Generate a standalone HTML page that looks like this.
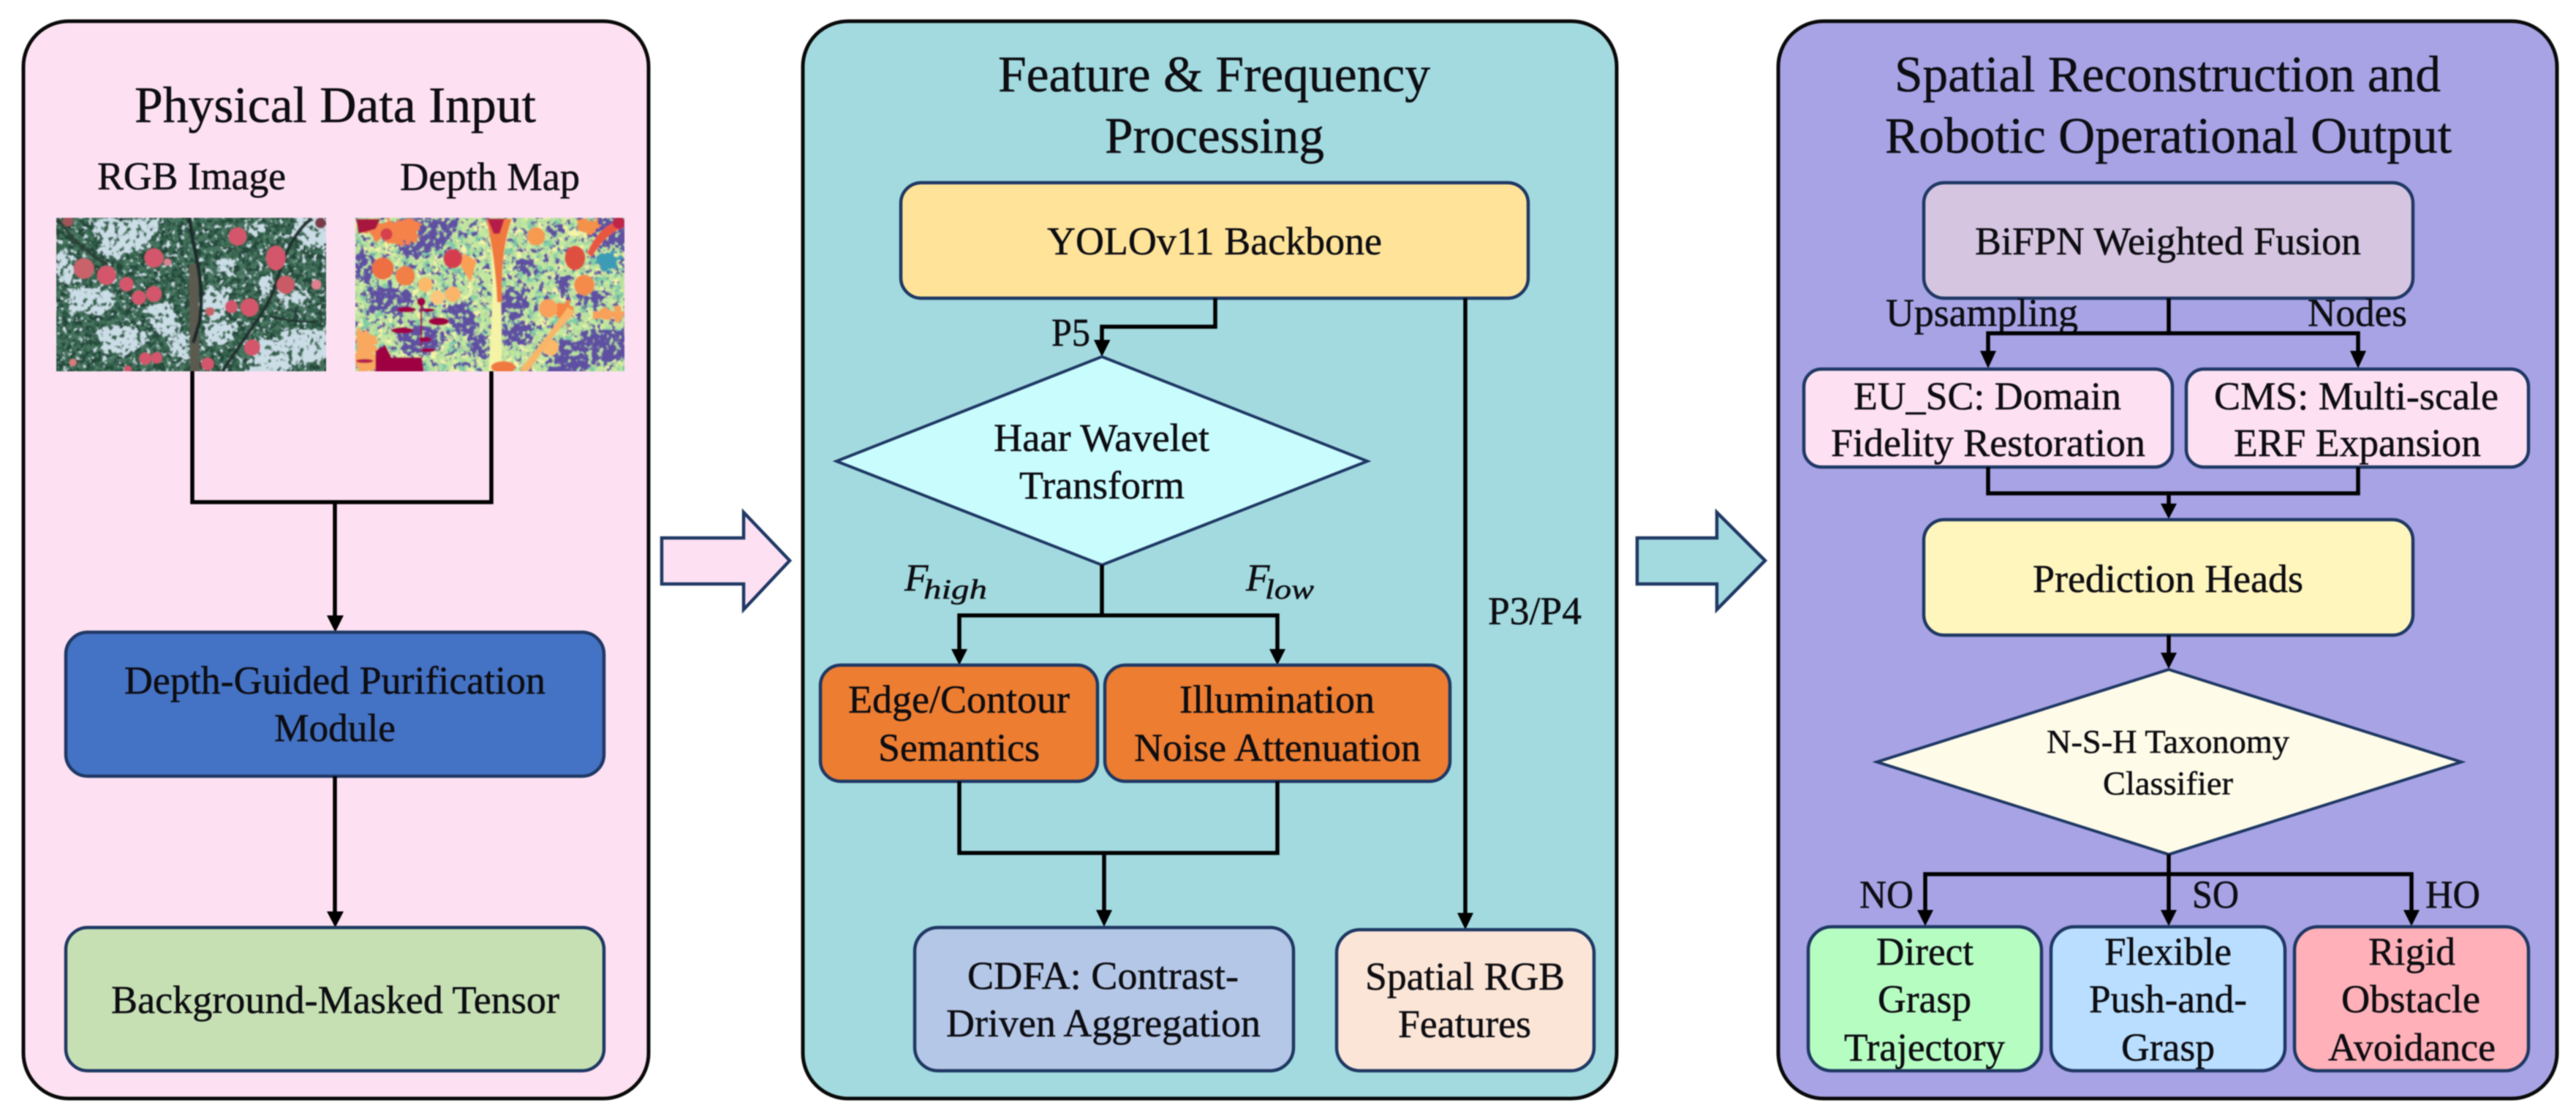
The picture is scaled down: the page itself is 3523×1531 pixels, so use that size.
<!DOCTYPE html>
<html lang="en">
<head>
<meta charset="utf-8">
<title>Pipeline diagram</title>
<style>
html,body{margin:0;padding:0;background:#fff;width:3523px;height:1531px;overflow:hidden}
svg.main{display:block;filter:blur(.8px)}
text{font-family:"Liberation Serif","Times New Roman",serif;font-size:54px;fill:#0d0d12;stroke:#0d0d12;stroke-width:.5px}
.t{font-size:70px}
.panel{stroke:#0a0a0a;stroke-width:5}
.box{stroke:#1F3864;stroke-width:4.5}
.ln{fill:none;stroke:#000;stroke-width:5.5;stroke-linejoin:miter}
.hd{fill:#000}
</style>
</head>
<body>
<svg class="main" xmlns="http://www.w3.org/2000/svg" width="3523" height="1531" viewBox="0 0 3523 1531">
<defs>
<filter id="soft" x="-5%" y="-5%" width="110%" height="110%"><feGaussianBlur stdDeviation="2.500"/></filter>
<filter id="rag" x="-5%" y="-5%" width="110%" height="110%" color-interpolation-filters="sRGB">
<feTurbulence type="fractalNoise" baseFrequency=".035" numOctaves="3" seed="7" result="n"/>
<feDisplacementMap in="SourceGraphic" in2="n" scale="55" xChannelSelector="R" yChannelSelector="G"/>
</filter>
<filter id="lvd" x="0" y="0" width="100%" height="100%" color-interpolation-filters="sRGB">
<feTurbulence type="fractalNoise" baseFrequency=".04" numOctaves="3" seed="4"/>
<feColorMatrix type="matrix" values="0 0 0 0 .13  0 0 0 0 .28  0 0 0 0 .22  1 0 0 0 0"/>
<feComponentTransfer><feFuncA type="linear" slope="10" intercept="-4.6"/></feComponentTransfer>
</filter>
<filter id="lvs" x="0" y="0" width="100%" height="100%" color-interpolation-filters="sRGB">
<feTurbulence type="fractalNoise" baseFrequency=".05" numOctaves="3" seed="31"/>
<feColorMatrix type="matrix" values="0 0 0 0 .80  0 0 0 0 .87  0 0 0 0 .90  1 0 0 0 0"/>
<feComponentTransfer><feFuncA type="linear" slope="10" intercept="-6"/></feComponentTransfer>
</filter>
<filter id="lvo" x="0" y="0" width="100%" height="100%" color-interpolation-filters="sRGB">
<feTurbulence type="fractalNoise" baseFrequency=".045" numOctaves="3" seed="17"/>
<feColorMatrix type="matrix" values="0 0 0 0 .20  0 0 0 0 .38  0 0 0 0 .30  1 0 0 0 0"/>
<feComponentTransfer><feFuncA type="linear" slope="10" intercept="-5.600"/></feComponentTransfer>
</filter>
<filter id="dy" x="0" y="0" width="100%" height="100%" color-interpolation-filters="sRGB">
<feTurbulence type="fractalNoise" baseFrequency=".03" numOctaves="3" seed="23"/>
<feColorMatrix type="matrix" values="0 0 0 0 .97  0 0 0 0 .96  0 0 0 0 .66  1 0 0 0 0"/>
<feComponentTransfer><feFuncA type="linear" slope="9" intercept="-4.8"/></feComponentTransfer>
</filter>
<filter id="dt" x="0" y="0" width="100%" height="100%" color-interpolation-filters="sRGB">
<feTurbulence type="fractalNoise" baseFrequency=".028" numOctaves="3" seed="12"/>
<feColorMatrix type="matrix" values="0 0 0 0 .50  0 0 0 0 .80  0 0 0 0 .65  1 0 0 0 0"/>
<feComponentTransfer><feFuncA type="linear" slope="9" intercept="-4.8"/></feComponentTransfer>
</filter>
<filter id="dp" x="0" y="0" width="100%" height="100%" color-interpolation-filters="sRGB">
<feTurbulence type="fractalNoise" baseFrequency=".045" numOctaves="3" seed="41"/>
<feColorMatrix type="matrix" values="0 0 0 0 .37  0 0 0 0 .31  0 0 0 0 .64  1 0 0 0 0"/>
<feComponentTransfer><feFuncA type="linear" slope="10" intercept="-5.5"/></feComponentTransfer>
</filter>
<filter id="dsp" x="0" y="0" width="100%" height="100%" color-interpolation-filters="sRGB">
<feTurbulence type="fractalNoise" baseFrequency=".045" numOctaves="3" seed="17"/>
<feColorMatrix type="matrix" values="0 0 0 0 .72  0 0 0 0 .88  0 0 0 0 .62  1 0 0 0 0"/>
<feComponentTransfer><feFuncA type="linear" slope="10" intercept="-5.600"/></feComponentTransfer>
</filter>
<g id="skyp">
<path d="M200 60L480 60L450 130L370 190L300 215L235 215L225 160Z"/>
<path d="M100 350L270 340L290 400L240 450L200 440L110 440Z"/>
<path d="M860 530L930 560L1000 510L1170 510L1170 640L1050 640L980 700L830 700Z"/>
<path d="M50 190L110 210L120 260L110 330L50 300Z"/>
<path d="M1020 50L1170 50L1170 170L1060 180L1020 120Z"/>
<path d="M840 80L900 80L890 130L840 130Z"/>
<path d="M700 230L770 220L780 280L710 290Z"/>
<path d="M660 340L760 340L740 450L680 480L650 430Z"/>
<path d="M400 420L500 400L560 480L540 530L470 530Z"/>
<path d="M220 500L380 500L420 560L330 620L240 600L210 540Z"/>
<path d="M950 350L1080 350L1060 400L980 420Z"/>
<path d="M880 290L935 300L920 370L880 360Z"/>
<path d="M650 490L780 480L770 550L680 590Z"/>
<path d="M510 540L590 520L580 640L520 620Z"/>
</g>
</defs>

<!-- panels -->
<rect class="panel" x="32" y="29" width="855" height="1474" rx="62" fill="#FDE0F2"/>
<rect class="panel" x="1098" y="29" width="1113" height="1474" rx="62" fill="#A2DADF"/>
<rect class="panel" x="2432" y="29" width="1065" height="1474" rx="62" fill="#A7A3E5"/>

<!-- block arrows -->
<polygon points="905,736 1017,736 1017,701 1080,767 1017,834 1017,799 905,799" fill="#FDE0F2" stroke="#1F3864" stroke-width="4.5"/>
<polygon points="2239,736 2348,736 2348,701 2414,767 2348,834 2348,799 2239,799" fill="#A2DADF" stroke="#1F3864" stroke-width="4.5"/>

<!-- panel 1 -->
<text class="t" x="184" y="167" textLength="549" lengthAdjust="spacingAndGlyphs">Physical Data Input</text>
<text x="133" y="259" textLength="258" lengthAdjust="spacingAndGlyphs">RGB Image</text>
<text x="547" y="260" textLength="246" lengthAdjust="spacingAndGlyphs">Depth Map</text>

<!-- RGB photo (drawn) -->
<svg x="77" y="298" width="369" height="210" viewBox="52 55 1106 627" preserveAspectRatio="none">
<g filter="url(#soft)">
<rect x="0" y="0" width="1300" height="800" fill="#46755E"/>
<rect x="0" y="0" width="1300" height="800" filter="url(#lvd)"/>
<rect x="0" y="0" width="1300" height="800" filter="url(#lvs)"/>
<g filter="url(#rag)" fill="#CBDDE6" transform="translate(5 0)"><use href="#skyp"/></g>
<rect x="0" y="0" width="1300" height="800" filter="url(#lvo)"/>
<g fill="none" stroke-linecap="round">
<path d="M615 260 L620 680" stroke="#5C5A50" stroke-width="38"/>
<path d="M600 60 C605 170 665 290 640 480 L615 560" stroke="#1E2B2B" stroke-width="15"/>
<path d="M1095 62 C1040 100 990 190 960 300 C930 420 830 530 735 680" stroke="#22302E" stroke-width="14"/>
<path d="M60 62 C110 130 170 200 260 245" stroke="#2E3C36" stroke-width="10"/>
<path d="M930 458 C990 470 1060 485 1120 478" stroke="#22302E" stroke-width="8"/>
</g>
<g fill="#D4566C">
<circle cx="165" cy="262" r="42" fill="#C9626A"/>
<circle cx="258" cy="290" r="39"/>
<circle cx="340" cy="326" r="29"/>
<circle cx="390" cy="381" r="29"/>
<circle cx="452" cy="366" r="32"/>
<circle cx="452" cy="219" r="39"/>
<circle cx="795" cy="131" r="37"/>
<ellipse cx="952" cy="219" rx="40" ry="50"/>
<circle cx="992" cy="329" r="37" fill="#C95A66"/>
<circle cx="844" cy="421" r="37"/>
<circle cx="770" cy="418" r="26"/>
<circle cx="682" cy="438" r="18" fill="#C9626A"/>
<circle cx="855" cy="585" r="33"/>
<circle cx="417" cy="630" r="25"/>
<circle cx="463" cy="627" r="23"/>
<circle cx="672" cy="652" r="26"/>
<circle cx="1118" cy="328" r="20" fill="#E08090"/>
<circle cx="508" cy="236" r="15" fill="#E08090"/>
<circle cx="120" cy="646" r="15" fill="#D87C7C"/>
<circle cx="345" cy="674" r="15"/>
<circle cx="1135" cy="76" r="22" fill="#7A3A4A"/>
<circle cx="100" cy="68" r="22" fill="#A0545A"/>
</g>
</g>
</svg>

<!-- Depth map (drawn) -->
<svg x="486" y="298" width="368" height="210" viewBox="47 55 1106 627" preserveAspectRatio="none">
<g filter="url(#soft)">
<rect x="0" y="0" width="1300" height="800" fill="#C4E89F"/>
<rect x="0" y="0" width="1300" height="800" filter="url(#dy)"/>
<rect x="0" y="0" width="1300" height="800" filter="url(#dt)"/>
<rect x="0" y="0" width="1300" height="800" filter="url(#dp)"/>
<g filter="url(#rag)" fill="#5E4FA2"><use href="#skyp"/></g>
<rect x="0" y="0" width="1300" height="800" filter="url(#dsp)"/>
<path d="M590 60 L690 60 C670 140 650 220 645 330 L650 680 L595 680 C605 500 625 300 590 60Z" fill="#F4F3A6"/>
<path d="M585 60 L690 60 C665 130 645 230 650 400 L630 400 C625 260 605 150 585 60Z" fill="#F0793F"/>
<path d="M590 58 L660 58 L640 120 L615 120Z" fill="#B51A4A"/>
<g filter="url(#rag)">
<path d="M60 110 L180 60 L320 70 L300 140 L230 170 L150 150Z" fill="#F4824A"/>
<ellipse cx="1010" cy="90" rx="50" ry="30" fill="#F4924A"/>
<ellipse cx="1090" cy="235" rx="50" ry="40" fill="#3D9CB5"/>
<ellipse cx="1090" cy="450" rx="70" ry="25" fill="#F9A05A"/>
<ellipse cx="905" cy="440" rx="40" ry="45" fill="#F5853F"/>
<path d="M50 510 L130 530 L135 690 L50 690Z" fill="#F8A85E"/>
</g>
<path d="M50 60 L150 60 L130 100 L60 120Z" fill="#A8123F"/>
<circle cx="175" cy="122" r="24" fill="#D5404B"/>
<path d="M1000 200 C1030 130 1070 80 1150 60 L1150 95 C1100 110 1050 160 1020 215Z" fill="#E8563F"/>
<circle cx="1130" cy="75" r="25" fill="#C02548"/>
<circle cx="160" cy="262" r="45" fill="#EE6F42"/>
<circle cx="252" cy="292" r="40" fill="#F27F45"/>
<circle cx="335" cy="328" r="30" fill="#FBB96B"/>
<circle cx="385" cy="380" r="29" fill="#FBC77B"/>
<circle cx="447" cy="367" r="32" fill="#FBB46B"/>
<circle cx="448" cy="222" r="39" fill="#D53E4F"/>
<path d="M490 200 L545 230 L520 320 L480 250Z" fill="#F9A055"/>
<circle cx="790" cy="131" r="37" fill="#F59A50"/>
<ellipse cx="950" cy="219" rx="42" ry="50" fill="#DF4F3F"/>
<circle cx="988" cy="330" r="42" fill="#F48B4C"/>
<circle cx="840" cy="425" r="38" fill="#F9A05A"/>
<circle cx="850" cy="585" r="33" fill="#FBB96B"/>
<path d="M720 680 L840 530 L920 420 L950 440 L860 540 L760 680Z" fill="#F9B568"/>
<path d="M130 690 L130 600 L170 575 L195 625 L320 625 L330 690Z" fill="#9E0142"/>
<ellipse cx="85" cy="640" rx="35" ry="8" fill="#B51A4A"/>
<g fill="#9E0142">
<circle cx="318" cy="398" r="17"/>
<ellipse cx="258" cy="430" rx="38" ry="11"/>
<ellipse cx="345" cy="432" rx="28" ry="8"/>
<ellipse cx="390" cy="478" rx="42" ry="16"/>
<ellipse cx="240" cy="515" rx="46" ry="12"/>
<ellipse cx="335" cy="552" rx="25" ry="10"/>
<ellipse cx="345" cy="596" rx="30" ry="8"/>
<rect x="314" y="410" width="7" height="170"/>
</g>
<ellipse cx="655" cy="665" rx="50" ry="24" fill="#F0793F"/>
</g>
</svg>

<path class="ln" d="M263 508V687H672V508"/>
<path class="ln" d="M458 687V844"/>
<polygon class="hd" points="447,842 470,842 458.500,865"/>
<rect class="box" x="90" y="865" width="736" height="197" rx="30" fill="#4472C4"/>
<text x="170" y="949" textLength="576" lengthAdjust="spacingAndGlyphs">Depth-Guided Purification</text>
<text x="375" y="1014" textLength="166" lengthAdjust="spacingAndGlyphs">Module</text>
<path class="ln" d="M458 1062V1249"/>
<polygon class="hd" points="447,1247 470,1247 458.500,1269"/>
<rect class="box" x="90" y="1269" width="736" height="196" rx="30" fill="#C6E0B4"/>
<text x="152" y="1386" textLength="613" lengthAdjust="spacingAndGlyphs">Background-Masked Tensor</text>

<!-- panel 2 -->
<text class="t" x="1365" y="125" textLength="591" lengthAdjust="spacingAndGlyphs">Feature &amp; Frequency</text>
<text class="t" x="1511" y="209" textLength="300" lengthAdjust="spacingAndGlyphs">Processing</text>
<rect class="box" x="1232" y="250" width="858" height="158" rx="28" fill="#FFE399"/>
<text x="1432" y="348" textLength="458" lengthAdjust="spacingAndGlyphs">YOLOv11 Backbone</text>
<path class="ln" d="M1662 408V447H1507V467"/>
<polygon class="hd" points="1496,465 1518.500,465 1507,488"/>
<text x="1438" y="473" textLength="53" lengthAdjust="spacingAndGlyphs">P5</text>
<polygon points="1507,488 1870,631 1507,773 1144,631" fill="#C9FCFD" stroke="#1F3864" stroke-width="4"/>
<text x="1359" y="617" textLength="295" lengthAdjust="spacingAndGlyphs">Haar Wavelet</text>
<text x="1394" y="682" textLength="226" lengthAdjust="spacingAndGlyphs">Transform</text>
<path class="ln" d="M1507 773V842M1312 890V842H1747V890"/>
<polygon class="hd" points="1301,888 1323,888 1312,910"/>
<polygon class="hd" points="1736,888 1758,888 1747,910"/>
<text x="1237" y="808" style="font-size:53px;font-style:italic">F</text>
<text x="1263" y="819" textLength="87" lengthAdjust="spacingAndGlyphs" style="font-size:38px;font-style:italic">high</text>
<text x="1704" y="808" style="font-size:53px;font-style:italic">F</text>
<text x="1730" y="819" textLength="67" lengthAdjust="spacingAndGlyphs" style="font-size:38px;font-style:italic">low</text>
<rect class="box" x="1122" y="910" width="379" height="159" rx="28" fill="#ED7D31"/>
<rect class="box" x="1511" y="910" width="472" height="159" rx="28" fill="#ED7D31"/>
<text x="1160" y="975" textLength="303" lengthAdjust="spacingAndGlyphs">Edge/Contour</text>
<text x="1201" y="1041" textLength="221" lengthAdjust="spacingAndGlyphs">Semantics</text>
<text x="1613" y="975" textLength="267" lengthAdjust="spacingAndGlyphs">Illumination</text>
<text x="1551" y="1041" textLength="392" lengthAdjust="spacingAndGlyphs">Noise Attenuation</text>
<path class="ln" d="M1312 1069V1167H1747V1069"/>
<path class="ln" d="M1510 1167V1247"/>
<polygon class="hd" points="1499,1245 1521,1245 1510,1268"/>
<rect class="box" x="1251" y="1269" width="518" height="196" rx="32" fill="#B4C7E7"/>
<text x="1323" y="1353" textLength="371" lengthAdjust="spacingAndGlyphs">CDFA: Contrast-</text>
<text x="1294" y="1418" textLength="430" lengthAdjust="spacingAndGlyphs">Driven Aggregation</text>
<path class="ln" d="M2004 408V1251"/>
<polygon class="hd" points="1993,1249 2015,1249 2004,1272"/>
<text x="2035" y="854" textLength="128" lengthAdjust="spacingAndGlyphs">P3/P4</text>
<rect class="box" x="1828" y="1272" width="352" height="193" rx="32" fill="#FBE5D6"/>
<text x="1867" y="1354" textLength="273" lengthAdjust="spacingAndGlyphs">Spatial RGB</text>
<text x="1912" y="1419" textLength="182" lengthAdjust="spacingAndGlyphs">Features</text>

<!-- panel 3 -->
<text class="t" x="2591" y="125" textLength="747" lengthAdjust="spacingAndGlyphs">Spatial Reconstruction and</text>
<text class="t" x="2578" y="209" textLength="775" lengthAdjust="spacingAndGlyphs">Robotic Operational Output</text>
<rect class="box" x="2631" y="250" width="669" height="158" rx="28" fill="#D5C5E0"/>
<text x="2701" y="348" textLength="528" lengthAdjust="spacingAndGlyphs">BiFPN Weighted Fusion</text>
<text x="2579" y="446" textLength="263" lengthAdjust="spacingAndGlyphs">Upsampling</text>
<text x="3156" y="446" textLength="136" lengthAdjust="spacingAndGlyphs">Nodes</text>
<path class="ln" d="M2966 408V456M2719 482V456H3225V482"/>
<polygon class="hd" points="2708,480 2730,480 2719,504"/>
<polygon class="hd" points="3214,480 3236,480 3225,504"/>
<rect class="box" x="2467" y="505" width="504" height="134" rx="24" fill="#FDE0F2"/>
<rect class="box" x="2990" y="505" width="468" height="134" rx="24" fill="#FDE0F2"/>
<text x="2535" y="560" textLength="366" lengthAdjust="spacingAndGlyphs">EU_SC: Domain</text>
<text x="2504" y="624" textLength="430" lengthAdjust="spacingAndGlyphs">Fidelity Restoration</text>
<text x="3028" y="560" textLength="389" lengthAdjust="spacingAndGlyphs">CMS: Multi-scale</text>
<text x="3055" y="624" textLength="338" lengthAdjust="spacingAndGlyphs">ERF Expansion</text>
<path class="ln" d="M2719 639V675H3225V639"/>
<path class="ln" d="M2966 675V691"/>
<polygon class="hd" points="2955,689 2977,689 2966,710"/>
<rect class="box" x="2631" y="711" width="669" height="158" rx="28" fill="#FFF6BE"/>
<text x="2780" y="810" textLength="370" lengthAdjust="spacingAndGlyphs">Prediction Heads</text>
<path class="ln" d="M2966 869V895"/>
<polygon class="hd" points="2955,893 2977,893 2966,915"/>
<polygon points="2966,916 3366,1042.500 2966,1169 2567,1042.500" fill="#FEFBE8" stroke="#1F3864" stroke-width="4"/>
<text x="2799" y="1030" textLength="332" lengthAdjust="spacingAndGlyphs" style="font-size:46px">N-S-H Taxonomy</text>
<text x="2876" y="1087" textLength="178" lengthAdjust="spacingAndGlyphs" style="font-size:46px">Classifier</text>
<path class="ln" d="M2966 1169V1247M2633 1247V1196H3298V1247"/>
<polygon class="hd" points="2622,1245 2644,1245 2633,1267"/>
<polygon class="hd" points="2955,1245 2977,1245 2966,1267"/>
<polygon class="hd" points="3287,1245 3309,1245 3298,1267"/>
<text x="2543" y="1242" textLength="74" lengthAdjust="spacingAndGlyphs">NO</text>
<text x="2998" y="1242" textLength="64" lengthAdjust="spacingAndGlyphs">SO</text>
<text x="3317" y="1242" textLength="75" lengthAdjust="spacingAndGlyphs">HO</text>
<rect class="box" x="2473" y="1268" width="319" height="197" rx="32" fill="#B6FDC2"/>
<rect class="box" x="2805" y="1268" width="320" height="197" rx="32" fill="#B9DEFF"/>
<rect class="box" x="3138" y="1268" width="320" height="197" rx="32" fill="#FFB0B8"/>
<text x="2566" y="1320" textLength="133" lengthAdjust="spacingAndGlyphs">Direct</text>
<text x="2568" y="1385" textLength="128" lengthAdjust="spacingAndGlyphs">Grasp</text>
<text x="2522" y="1451" textLength="220" lengthAdjust="spacingAndGlyphs">Trajectory</text>
<text x="2878" y="1320" textLength="174" lengthAdjust="spacingAndGlyphs">Flexible</text>
<text x="2857" y="1385" textLength="216" lengthAdjust="spacingAndGlyphs">Push-and-</text>
<text x="2901" y="1451" textLength="128" lengthAdjust="spacingAndGlyphs">Grasp</text>
<text x="3239" y="1320" textLength="119" lengthAdjust="spacingAndGlyphs">Rigid</text>
<text x="3202" y="1385" textLength="190" lengthAdjust="spacingAndGlyphs">Obstacle</text>
<text x="3184" y="1451" textLength="229" lengthAdjust="spacingAndGlyphs">Avoidance</text>
</svg>
</body>
</html>
